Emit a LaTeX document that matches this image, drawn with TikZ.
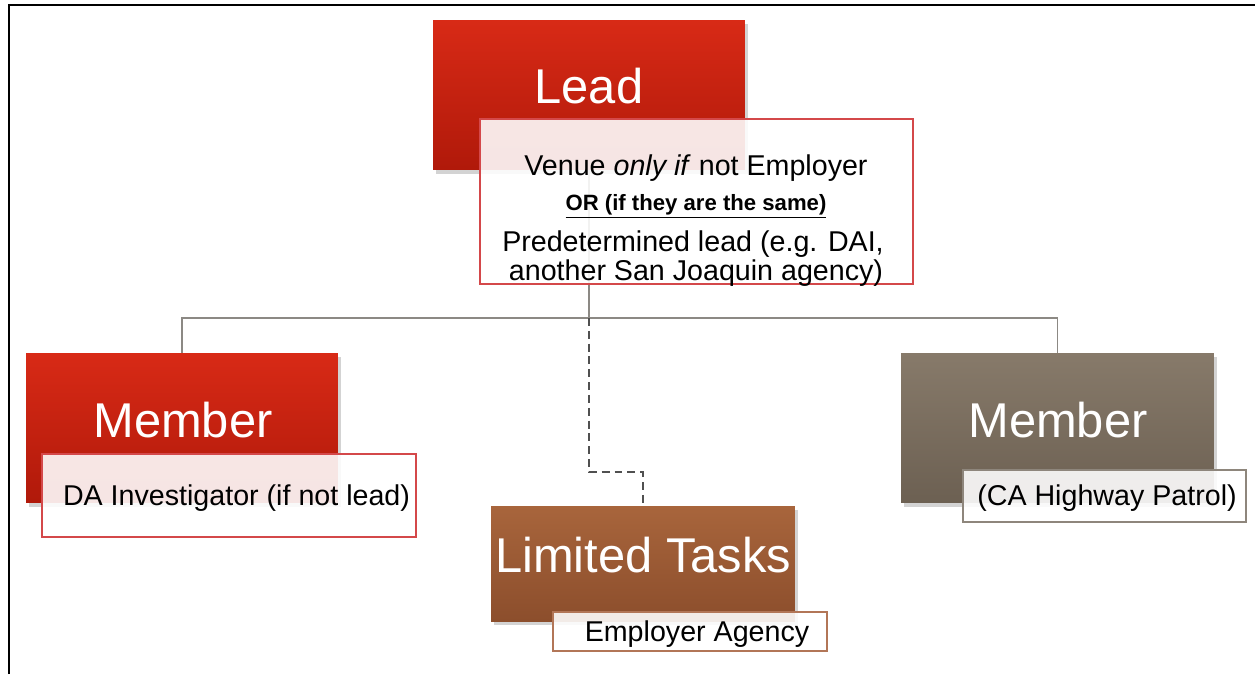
\documentclass[tikz,border=0pt]{standalone}
\usepackage{fontspec}
\setmainfont{Liberation Sans}
\usetikzlibrary{shadows}
\pgfdeclarelayer{background}
\pgfsetlayers{background,main}
\definecolor{redtop}{HTML}{D82A16}
\definecolor{redbot}{HTML}{B0190A}
\definecolor{redline}{HTML}{D4484A}
\definecolor{browntop}{HTML}{A8653C}
\definecolor{brownbot}{HTML}{8C4E2C}
\definecolor{brownline}{HTML}{B27657}
\definecolor{greytop}{HTML}{877A6A}
\definecolor{greybot}{HTML}{6C6052}
\definecolor{greyline}{HTML}{8E867C}
\definecolor{connc}{HTML}{8C8984}
\definecolor{dashc}{HTML}{505050}
\tikzset{
  titlebox/.style={rectangle, inner sep=0pt, outer sep=0pt, draw=none,
    drop shadow={shadow xshift=1.5pt, shadow yshift=-2pt, opacity=0.35}},
  redbox/.style={titlebox, top color=redtop, bottom color=redbot},
  brownbox/.style={titlebox, top color=browntop, bottom color=brownbot},
  greybox/.style={titlebox, top color=greytop, bottom color=greybot},
  infobox/.style={rectangle, inner sep=0pt, outer sep=0pt, fill=white, fill opacity=0.89, line width=0.9pt},
  titletext/.style={text=white, font=\fontsize{27.8}{30}\selectfont, anchor=base, inner sep=0pt},
  bodytext/.style={text=black, font=\fontsize{16.3}{18}\selectfont, anchor=base, inner sep=0pt},
  conn/.style={draw=connc, line width=1pt},
  dashconn/.style={draw=dashc, line width=1.4pt, dash pattern=on 4.5pt off 2.8pt},
  frameline/.style={draw=black, line width=1.5pt}
}
\begin{document}
\begin{tikzpicture}[x=0.02cm, y=-0.02cm]
\useasboundingbox (0,0) rectangle (1255,674);
% frame
\coordinate (fA) at (9,674);
\coordinate (fB) at (9,5);
\coordinate (fC) at (1255,5);
\draw[frameline] (fA) -- (fB) -- (fC);

% title boxes
\node[redbox, minimum width=6.24cm, minimum height=3.0cm] (lead) at (589,95) {};
\node[titletext] (leadT) at (589,103) {Lead};

\node[redbox, minimum width=6.24cm, minimum height=3.0cm] (memL) at (182,428) {};
\node[titletext] (memLT) at (183,437.5) {Member};

\node[greybox, minimum width=6.26cm, minimum height=3.0cm] (memR) at (1057.5,428) {};
\node[titletext] (memRT) at (1058,437.5) {Member};

\node[brownbox, minimum width=6.08cm, minimum height=2.3cm] (limit) at (643,563.5) {};
\node[titletext] (limitT) at (643,572) {Limited Tasks};

% info boxes
\node[infobox, draw=redline, minimum width=8.66cm, minimum height=3.3cm] (leadI) at (696.5,201.5) {};
\node[bodytext] (l1) at (696,175) {Venue \textit{only if} not Employer};
\node[bodytext, font=\bfseries\fontsize{12.6}{14}\selectfont] (l2) at (696,210) {\underline{OR (if they are the same)}};
\node[bodytext] (l3) at (693,251) {Predetermined lead (e.g. DAI,};
\node[bodytext] (l4) at (696,280) {another San Joaquin agency)};

\node[infobox, draw=redline, minimum width=7.48cm, minimum height=1.66cm] (memLI) at (229,495.5) {};
\node[bodytext] (memLIT) at (236.5,505) {DA Investigator (if not lead)};

\node[infobox, draw=greyline, minimum width=5.66cm, minimum height=1.04cm] (memRI) at (1104.5,496) {};
\node[bodytext] (memRIT) at (1107,505) {(CA Highway Patrol)};

\node[infobox, draw=brownline, minimum width=5.48cm, minimum height=0.78cm] (limitI) at (690,631.5) {};
\node[bodytext] (limitIT) at (697,641) {Employer Agency};

% connectors
\coordinate (bus) at (589,318);
\coordinate (kink) at (589,472);
\begin{pgfonlayer}{background}
\draw[conn] (lead.south) -- (bus);
\draw[conn] (memL.north) |- (bus) -| (memR.north);
\draw[dashconn] (bus) -- (kink) -| (limit.north);
\end{pgfonlayer}
\end{tikzpicture}
\end{document}
